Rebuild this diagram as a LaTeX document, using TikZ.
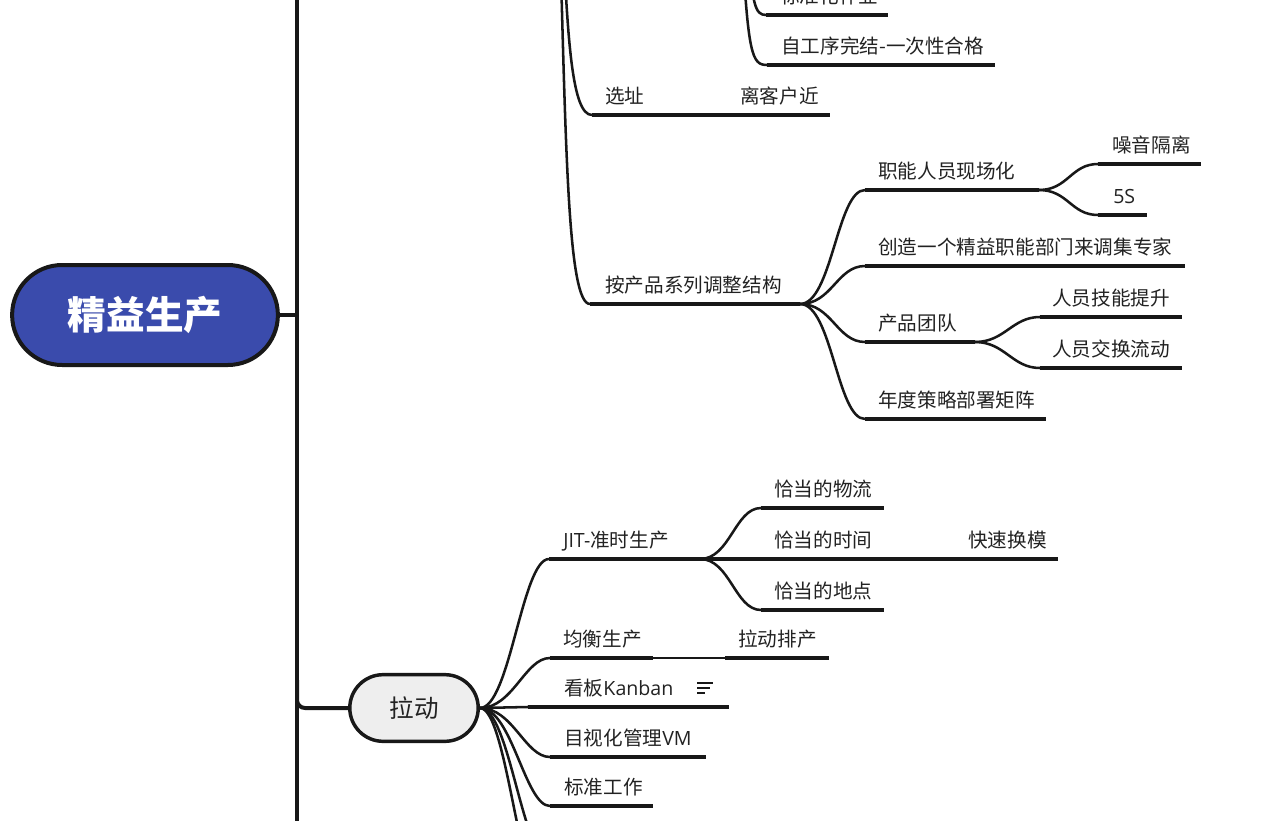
\documentclass[tikz,border=0pt]{standalone}
\usepackage{fontspec}
\setmainfont{Noto Sans CJK SC}
\newfontfamily\lat{Open Sans}
\usetikzlibrary{shapes.misc}
\definecolor{rootblue}{RGB}{58,75,172}
\definecolor{ink}{RGB}{24,24,24}
\definecolor{txt}{RGB}{34,34,34}
\definecolor{pullfill}{RGB}{238,238,238}
\newcommand\mmtopic[6]{%
  \coordinate (#1-s) at (#2,#4);
  \coordinate (#1-e) at (#3,#4);
  \draw[uline] (#1-s) -- (#1-e);
  \node[lbl] (#1) at (#5,#4-12) {#6};}
\newcommand\mmlink[4]{\draw[branch] (#1) .. controls +(#3,0) and +(-#4,0) .. (#2);}
\begin{document}
\begin{tikzpicture}[x=0.75pt,y=-0.75pt,
  lbl/.style={anchor=base west, inner sep=0pt, text=txt, font=\fontsize{14.7}{17}\selectfont},
  uline/.style={draw=ink, line width=2.3pt},
  branch/.style={draw=ink, line width=1.9pt},
  trunk/.style={draw=ink, line width=3pt},
  rootnode/.style={rounded rectangle, draw=ink, line width=3pt, fill=rootblue,
    minimum width=206pt, minimum height=75pt, text=white,
    font=\fontsize{29}{34}\selectfont\bfseries},
  pillnode/.style={rounded rectangle, draw=ink, line width=2.6pt, fill=pullfill,
    minimum width=103pt, minimum height=50pt, text=txt,
    font=\fontsize{18.4}{22}\selectfont}]
\useasboundingbox (0,0) rectangle (1265,821);
\clip (0,0) rectangle (1265,821);

% trunk and root
\coordinate (trT) at (297,-30);
\coordinate (trB) at (297,850);
\draw[trunk] (trT) -- (trB);
\node[rootnode] (root) at (145,315) {精益生产};
\draw[trunk] (root.east) -- (root.east -| trT);

% ---------- upper part ----------
\coordinate (upStd) at (748,-60);
\coordinate (upSelf) at (742,-60);
\mmtopic{std}{766}{888}{15}{780}{标准化作业}
\mmtopic{self}{767}{995}{65}{781}{自工序完结-一次性合格}
\draw[branch] (upStd) .. controls (752,5) and (755,15) .. (std-s);
\draw[branch] (upSelf) .. controls (748,55) and (752,65) .. (self-s);

\coordinate (upSite) at (563,-60);
\coordinate (upProd) at (560,-60);
\mmtopic{site}{592}{705}{115}{605}{选址}
\mmtopic{near}{705}{830}{115}{740}{离客户近}
\mmtopic{prod}{590}{800}{304}{605}{按产品系列调整结构}
\draw[branch] (upSite) .. controls (568,40) and (572,115) .. (site-s);
\draw[branch] (upProd) .. controls (566,150) and (568,304) .. (prod-s);

\mmtopic{func}{865}{1039}{190}{878}{职能人员现场化}
\mmtopic{noise}{1098}{1201}{164}{1112}{噪音隔离}
\mmtopic{fives}{1098}{1147}{215}{1113}{{\lat 5S}}
\mmtopic{dept}{865}{1185}{266}{878}{创造一个精益职能部门来调集专家}
\mmtopic{team}{865}{975}{342}{878}{产品团队}
\mmtopic{skill}{1040}{1182}{317}{1052}{人员技能提升}
\mmtopic{swap}{1040}{1182}{368}{1052}{人员交换流动}
\mmtopic{year}{865}{1046}{419}{878}{年度策略部署矩阵}
\mmlink{prod-e}{func-s}{32}{28}
\mmlink{prod-e}{dept-s}{32}{28}
\mmlink{prod-e}{team-s}{32}{28}
\mmlink{prod-e}{year-s}{32}{28}
\mmlink{func-e}{noise-s}{29}{27}
\mmlink{func-e}{fives-s}{29}{27}
\mmlink{team-e}{skill-s}{30}{28}
\mmlink{team-e}{swap-s}{30}{28}

% ---------- lower part ----------
\node[pillnode] (pull) at (414,708) {拉动};
\draw[trunk, rounded corners=6pt] (297,680) |- (pull.west);

\mmtopic{jit}{549}{700}{559}{563}{{\lat JIT-}准时生产}
\mmtopic{flow}{761}{884}{508}{774}{恰当的物流}
\mmtopic{time}{700}{884}{559}{774}{恰当的时间}
\mmtopic{smed}{884}{1058}{559}{968}{快速换模}
\mmtopic{place}{761}{884}{610}{774}{恰当的地点}
\mmlink{jit-e}{flow-s}{30}{26}
\mmlink{jit-e}{place-s}{30}{26}

\mmtopic{level}{550}{653}{658}{563}{均衡生产}
\mmtopic{sched}{725}{829}{658}{738}{拉动排产}
\draw[branch] (level-e) -- (sched-s);
\mmtopic{kanban}{528}{729}{707}{564}{看板{\lat Kanban}}
\draw[branch] (pull.east) -- (kanban-s);
\mmtopic{vm}{550}{706}{757}{564}{目视化管理{\lat VM}}
\mmtopic{work}{550}{653}{806}{564}{标准工作}
\coordinate (offA) at (550,860);
\coordinate (offB) at (550,910);
\mmlink{pull.east}{jit-s}{30}{27}
\mmlink{pull.east}{level-s}{33}{25}
\mmlink{pull.east}{vm-s}{33}{25}
\mmlink{pull.east}{work-s}{32}{25}
\mmlink{pull.east}{offA}{30}{28}
\mmlink{pull.east}{offB}{28}{30}

% notes icon
\draw[ink, line width=1.2pt] (697,683) -- (713,683);
\draw[ink, line width=1.2pt] (697,688) -- (710,688);
\draw[ink, line width=1.2pt] (697,693) -- (705,693);
\end{tikzpicture}
\end{document}
